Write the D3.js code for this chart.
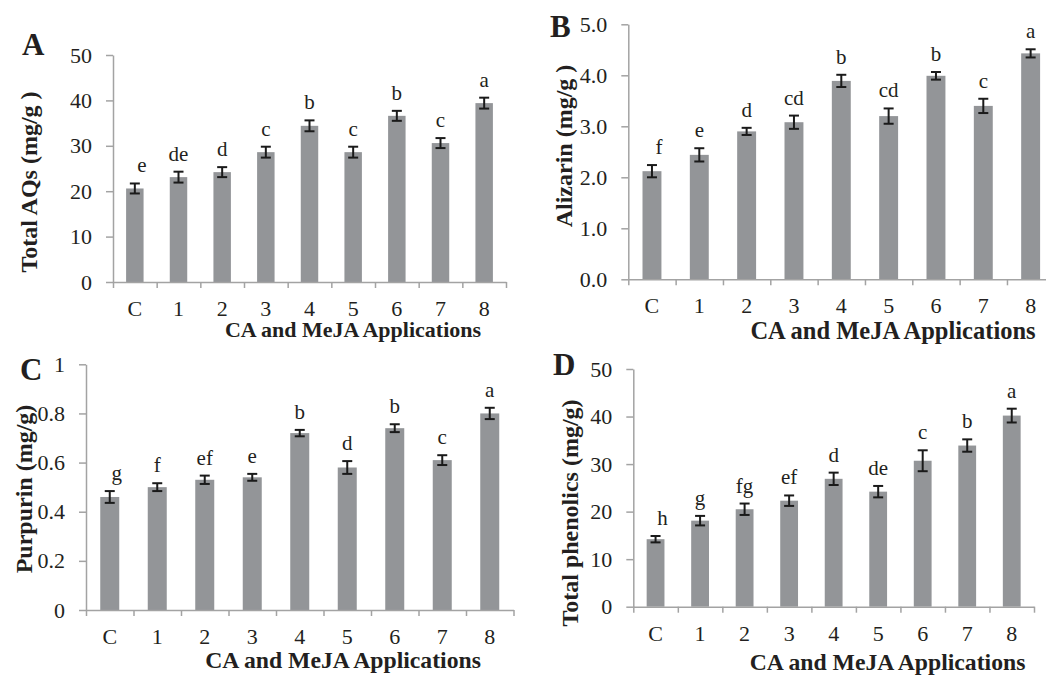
<!DOCTYPE html>
<html>
<head>
<meta charset="utf-8">
<script src="https://cdn.jsdelivr.net/npm/d3@7"></script>
<style>
  body { margin: 0; background: #fff; }
  svg { display: block; font-family: "Liberation Serif", "Times New Roman", serif; }
</style>
</head>
<body>
<svg id="chart" width="1046" height="675"></svg>
<script>
const categories = ["C", "1", "2", "3", "4", "5", "6", "7", "8"];

const aqsValues = [20.6, 23.1, 24.2, 28.6, 34.4, 28.6, 36.6, 30.6, 39.4];
const aqsErrors = [1.1, 1.2, 1.1, 1.2, 1.2, 1.2, 1.1, 1.1, 1.2];
const aqsLetters = ["e", "de", "d", "c", "b", "c", "b", "c", "a"];
const aqsTicks = [0, 10, 20, 30, 40, 50];

const alizarinValues = [2.12, 2.44, 2.90, 3.08, 3.89, 3.20, 3.99, 3.40, 4.43];
const alizarinErrors = [0.12, 0.13, 0.07, 0.13, 0.12, 0.15, 0.075, 0.14, 0.08];
const alizarinLetters = ["f", "e", "d", "cd", "b", "cd", "b", "c", "a"];
const alizarinTicks = [0, 1, 2, 3, 4, 5];

const purpurinValues = [0.46, 0.50, 0.53, 0.54, 0.72, 0.58, 0.74, 0.61, 0.80];
const purpurinErrors = [0.024, 0.016, 0.017, 0.014, 0.013, 0.026, 0.016, 0.02, 0.023];
const purpurinLetters = ["g", "f", "ef", "e", "b", "d", "b", "c", "a"];
const purpurinTicks = [0, 0.2, 0.4, 0.6, 0.8, 1];

const phenolicsValues = [14.2, 18.1, 20.5, 22.3, 26.9, 24.2, 30.7, 33.9, 40.2];
const phenolicsErrors = [0.67, 1.0, 1.2, 1.1, 1.3, 1.2, 2.2, 1.3, 1.45];
const phenolicsLetters = ["h", "g", "fg", "ef", "d", "de", "c", "b", "a"];
const phenolicsTicks = [0, 10, 20, 30, 40, 50];

const xTitle = "CA and MeJA Applications";

const svg = d3.select("#chart");
const ink = "#231f20";
const axisColor = "#a3a3a3";
const barColor = "#939598";

const panels = [
  { tag: "A", values: aqsValues, errors: aqsErrors, letters: aqsLetters, ticks: aqsTicks,
    fmt: d3.format("d"), yTitle: "Total AQs (mg/g )",
    left: 113, right: 506, top: 55, zero: 282,
    xt: [353, 337, 22], yt: [37, 182], tagPos: [22, 55] },
  { tag: "B", values: alizarinValues, errors: alizarinErrors, letters: alizarinLetters, ticks: alizarinTicks,
    fmt: d3.format(".1f"), yTitle: "Alizarin (mg/g )",
    left: 628.3, right: 1054.3, top: 24.3, zero: 279.3,
    xt: [893, 339, 24.5], yt: [572, 146], tagPos: [550, 37] },
  { tag: "C", values: purpurinValues, errors: purpurinErrors, letters: purpurinLetters, ticks: purpurinTicks,
    fmt: d3.format("~g"), yTitle: "Purpurin (mg/g)",
    left: 86, right: 513.5, top: 364.3, zero: 610,
    xt: [343, 668, 23.7], yt: [32, 489], tagPos: [20, 380] },
  { tag: "D", values: phenolicsValues, errors: phenolicsErrors, letters: phenolicsLetters, ticks: phenolicsTicks,
    fmt: d3.format("d"), yTitle: "Total phenolics (mg/g)",
    left: 633.3, right: 1034, top: 369, zero: 606.7,
    xt: [887.5, 670, 23.7], yt: [578, 513], tagPos: [553, 375] }
];

panels.forEach(p => {
  const g = svg.append("g");
  const rows = categories.map((c, i) => ({ cat: c, v: p.values[i], e: p.errors[i], l: p.letters[i], i }));

  const x = d3.scaleBand().domain(categories).range([p.left, p.right])
    .paddingInner(0.6).paddingOuter(0.3);
  const edge = d3.scaleLinear().domain([0, categories.length]).range([p.left, p.right]);
  const y = d3.scaleLinear().domain([0, d3.max(p.ticks)]).range([p.zero, p.top]);

  // bars
  g.selectAll(".bar").data(rows).enter().append("rect")
    .attr("x", d => x(d.cat))
    .attr("y", d => y(d.v))
    .attr("width", x.bandwidth())
    .attr("height", d => y(0) - y(d.v))
    .attr("fill", barColor);

  // y axis
  const ya = g.append("g").attr("transform", `translate(${p.left},0)`)
    .call(d3.axisLeft(y).tickValues(p.ticks).tickFormat(p.fmt)
      .tickSize(7).tickSizeOuter(0).tickPadding(14));
  ya.attr("font-family", null);
  ya.select(".domain").attr("stroke", axisColor).attr("stroke-width", 1.5);
  ya.selectAll(".tick line").attr("stroke", axisColor).attr("stroke-width", 1.5);
  ya.selectAll(".tick text").attr("fill", ink).style("font-size", "22px");

  // x axis (ticks between categories)
  const xa = g.append("g").attr("transform", `translate(0,${p.zero})`)
    .call(d3.axisBottom(edge).tickValues(d3.range(categories.length + 1))
      .tickFormat("").tickSize(6).tickSizeOuter(0));
  xa.select(".domain").attr("stroke", axisColor).attr("stroke-width", 1.5);
  xa.selectAll(".tick line").attr("stroke", axisColor).attr("stroke-width", 1.5);

  g.selectAll(".xl").data(rows).enter().append("text")
    .attr("x", d => x(d.cat) + x.bandwidth() / 2)
    .attr("y", p.zero + 34)
    .attr("text-anchor", "middle")
    .attr("fill", ink).style("font-size", "22px")
    .text(d => d.cat);

  // error bars
  const cx = d => x(d.cat) + x.bandwidth() / 2;
  const eb = g.selectAll(".err").data(rows).enter().append("g")
    .attr("stroke", "#1a1a1a").attr("stroke-width", 2);
  eb.append("line").attr("x1", cx).attr("x2", cx)
    .attr("y1", d => y(d.v + d.e)).attr("y2", d => y(d.v - d.e));
  eb.append("line").attr("x1", d => cx(d) - 5).attr("x2", d => cx(d) + 5)
    .attr("y1", d => y(d.v + d.e)).attr("y2", d => y(d.v + d.e));
  eb.append("line").attr("x1", d => cx(d) - 5).attr("x2", d => cx(d) + 5)
    .attr("y1", d => y(d.v - d.e)).attr("y2", d => y(d.v - d.e));

  // significance letters
  g.selectAll(".sig").data(rows).enter().append("text")
    .attr("x", d => cx(d) + (d.i === 0 ? 7 : 0))
    .attr("y", d => y(d.v + d.e) - 11)
    .attr("text-anchor", "middle")
    .attr("fill", ink).style("font-size", "21px")
    .text(d => d.l);

  // titles
  g.append("text")
    .attr("x", p.xt[0]).attr("y", p.xt[1])
    .attr("text-anchor", "middle")
    .attr("fill", ink).style("font-size", p.xt[2] + "px").style("font-weight", "bold")
    .text(xTitle);

  g.append("text")
    .attr("transform", "rotate(-90)")
    .attr("x", -p.yt[1]).attr("y", p.yt[0])
    .attr("text-anchor", "middle")
    .attr("fill", ink).style("font-size", "24px").style("font-weight", "bold")
    .text(p.yTitle);

  g.append("text")
    .attr("x", p.tagPos[0]).attr("y", p.tagPos[1])
    .attr("fill", ink).style("font-size", "31px").style("font-weight", "bold")
    .text(p.tag);
});
</script>
</body>
</html>
